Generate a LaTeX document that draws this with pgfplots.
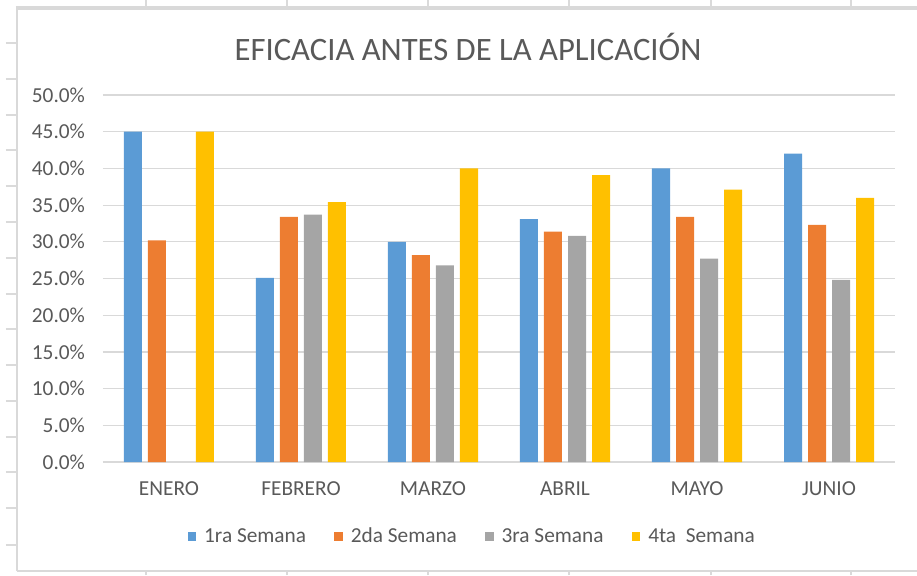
\documentclass[border=0pt]{standalone}
\usepackage{fontspec}
\setmainfont{Carlito}
\usepackage{pgfplots}
\pgfplotsset{compat=1.18}
\definecolor{cBlue}{HTML}{5B9BD5}
\definecolor{cOrange}{HTML}{ED7D31}
\definecolor{cGray}{HTML}{A5A5A5}
\definecolor{cYellow}{HTML}{FFC000}
\definecolor{txtgray}{HTML}{595959}
\definecolor{gridgray}{HTML}{D9D9D9}
\definecolor{sheetgray}{HTML}{DADADA}
\pgfplotsset{sqlegend/.style={legend image code/.code={\fill[##1] (0pt,-3.4pt) rectangle (6.5pt,3.4pt);}}}
\begin{document}
\begin{tikzpicture}
\begin{scope}[x=0.75pt,y=0.75pt,shift={(-77.25pt,-84.75pt)}]
\path[use as bounding box] (0,0) rectangle (917,575);
% spreadsheet background lines
\foreach \xx in {146,287,428,569,711,851} {
  \draw[sheetgray, line width=1.5pt] (\xx,575) -- (\xx,566);
  \draw[sheetgray, line width=1.5pt] (\xx,0) -- (\xx,5);
}
\foreach \yy in {43,79,115,150,186,222,258,294,329,365,401,437,472,508,545} {
  \draw[sheetgray, line width=1.5pt] (6,575-\yy) -- (17,575-\yy);
}
% chart frame
\draw[gridgray, line width=1.5pt] (17,4) -- (17,567);
\draw[gridgray, line width=3pt] (16,567) -- (917,567);
\draw[gridgray, line width=1.5pt] (17,4) -- (917,4);
% title
\node[text=txtgray, font=\fontsize{24.5}{28}\selectfont] at (468,528) {EFICACIA ANTES DE LA APLICACIÓN};
\end{scope}
\begin{axis}[
  width=594pt, height=275.25pt, scale only axis,
  xmin=-0.5, xmax=5.5, ymin=0, ymax=50,
  ybar=4.5pt, bar width=13.5pt,
  xtick={0,1,2,3,4,5},
  xticklabels={ENERO,FEBRERO,MARZO,ABRIL,MAYO,JUNIO},
  ytick={0,5,...,50},
  /pgf/number format/assume math mode=true,
  yticklabel={\pgfmathprintnumber[fixed,fixed zerofill,precision=1]{\tick}\%},
  ymajorgrids, grid style={draw=gridgray, line width=0.9pt},
  axis line style={draw=none},
  major tick length=0pt,
  tick label style={text=txtgray, font=\fontsize{16}{19}\selectfont},
  yticklabel style={xshift=-10pt},
  xticklabel style={yshift=-11pt},
  legend columns=4,
  legend style={at={(0.4666,-0.203)}, anchor=center, draw=none, fill=none,
    font=\fontsize{16}{19}\selectfont, text=txtgray, inner sep=0pt,
    /tikz/every even column/.append style={column sep=19pt},
    /tikz/every odd column/.append style={column sep=4pt}},
]
\addplot[fill=cBlue, draw=none, sqlegend] coordinates {(0,45) (1,25.1) (2,30.0) (3,33.1) (4,40.0) (5,42.0)};
\addplot[fill=cOrange, draw=none, sqlegend] coordinates {(0,30.2) (1,33.4) (2,28.2) (3,31.4) (4,33.4) (5,32.3)};
\addplot[fill=cGray, draw=none, sqlegend] coordinates {(1,33.7) (2,26.8) (3,30.8) (4,27.7) (5,24.8)};
\addplot[fill=cYellow, draw=none, sqlegend] coordinates {(0,45) (1,35.4) (2,40.0) (3,39.1) (4,37.1) (5,36.0)};
\legend{1ra Semana, 2da Semana, 3ra Semana, 4ta\ \ Semana}
\end{axis}
\end{tikzpicture}
\end{document}
